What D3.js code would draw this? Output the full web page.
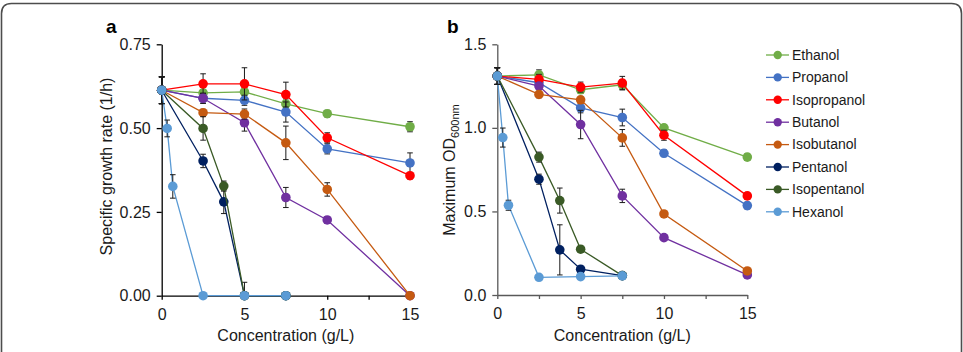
<!DOCTYPE html>
<html>
<head>
<meta charset="utf-8">
<script src="https://cdn.jsdelivr.net/npm/d3@7"></script>
<style>
  body { margin: 0; background: #fff; }
  svg { display: block; font-family: "Liberation Sans", Arial, sans-serif; }
</style>
</head>
<body>
<div id="chart"></div>
<script>
// series + colours
const seriesNames = ["Ethanol", "Propanol", "Isopropanol", "Butanol", "Isobutanol", "Pentanol", "Isopentanol", "Hexanol"];
const seriesColors = ["#70ad47", "#4472c4", "#ff0000", "#7030a0", "#c55a11", "#002060", "#3a5a26", "#5b9bd5"];

// concentrations (g/L)
const concFull = [0, 2.5, 5, 7.5, 10, 15];
const concShort = [0, 2.5, 3.75, 5, 7.5];
const concHex = [0, 0.33, 0.67, 2.5, 5, 7.5];
const seriesConc = [concFull, concFull, concFull, concFull, concFull, concShort, concShort, concHex];

// panel a: specific growth rate (1/h)
const rateValues = [
  [0.613, 0.605, 0.608, 0.572, 0.543, 0.504],
  [0.613, 0.589, 0.583, 0.548, 0.438, 0.396],
  [0.613, 0.632, 0.632, 0.600, 0.471, 0.358],
  [0.613, 0.589, 0.516, 0.293, 0.226, 0],
  [0.613, 0.546, 0.542, 0.456, 0.317, 0],
  [0.613, 0.402, 0.280, 0, 0],
  [0.613, 0.499, 0.327, 0, 0],
  [0.613, 0.499, 0.326, 0, 0, 0]
];
const rateErrors = [
  [0.04, 0.01, 0.015, 0.015, 0.01, 0.015],
  [0.04, 0.015, 0.015, 0.03, 0.015, 0.03],
  [0.04, 0.03, 0.048, 0.037, 0.015, 0.01],
  [0.04, 0.015, 0.025, 0.03, 0.01, 0],
  [0.04, 0.01, 0.015, 0.05, 0.02, 0],
  [0.04, 0.02, 0.035, 0.04, 0],
  [0.04, 0.035, 0.015, 0.01, 0],
  [0.04, 0.025, 0.035, 0, 0, 0]
];

// panel b: maximum OD600nm
const odValues = [
  [1.31, 1.317, 1.228, 1.258, 1.0, 0.825],
  [1.31, 1.27, 1.12, 1.062, 0.848, 0.535],
  [1.31, 1.29, 1.244, 1.268, 0.956, 0.593],
  [1.31, 1.25, 1.02, 0.593, 0.343, 0.12],
  [1.31, 1.20, 1.168, 0.94, 0.485, 0.144],
  [1.31, 0.693, 0.27, 0.154, 0.116],
  [1.31, 0.825, 0.565, 0.274, 0.116],
  [1.31, 0.942, 0.537, 0.106, 0.11, 0.115]
];
const odErrors = [
  [0.05, 0.03, 0.02, 0.03, 0.02, 0.02],
  [0.05, 0.03, 0.03, 0.05, 0.02, 0.02],
  [0.05, 0.03, 0.03, 0.04, 0.03, 0.02],
  [0.05, 0.02, 0.085, 0.04, 0.01, 0.01],
  [0.05, 0.02, 0.02, 0.05, 0.01, 0.01],
  [0.05, 0.03, 0.15, 0.01, 0.01],
  [0.05, 0.03, 0.075, 0.01, 0.01],
  [0.05, 0.057, 0.03, 0.01, 0.01, 0.01]
];

// ticks
const xTicks = [0, 2.5, 5, 7.5, 10, 12.5, 15];
const rateTicks = [0, 0.25, 0.5, 0.75];
const odTicks = [0, 0.5, 1.0, 1.5];

const width = 963, height = 352;

const svg = d3.select("#chart")
  .append("svg")
  .attr("width", width)
  .attr("height", height);

// rounded frame, open at the bottom
svg.append("path")
  .attr("d", "M1.5,352 L1.5,13.5 Q1.5,3.5 11.5,3.5 L951.5,3.5 Q961.5,3.5 961.5,13.5 L961.5,352")
  .attr("fill", "none")
  .attr("stroke", "#4d4d4d")
  .attr("stroke-width", 1.6);

function drawPanel(opt) {
  const x = d3.scaleLinear().domain([0, 15]).range(opt.xRange);
  const y = d3.scaleLinear().domain([0, opt.yMax]).range(opt.yRange);

  const g = svg.append("g");

  // x axis
  const xAxis = g.append("g")
    .attr("transform", "translate(0," + opt.yRange[0] + ")")
    .call(d3.axisBottom(x)
      .tickValues(xTicks)
      .tickSizeOuter(0)
      .tickSizeInner(4)
      .tickPadding(9)
      .tickFormat(d => d % 5 === 0 ? d3.format("d")(d) : ""));
  // y axis
  const yAxis = g.append("g")
    .attr("transform", "translate(" + opt.xRange[0] + ",0)")
    .call(d3.axisLeft(y)
      .tickValues(opt.yTicks)
      .tickSizeOuter(0)
      .tickSizeInner(5)
      .tickPadding(6)
      .tickFormat(d3.format(opt.yFormat)));

  [xAxis, yAxis].forEach(ax => {
    ax.select(".domain").attr("stroke", opt.axisColor).attr("stroke-width", 1.3);
    ax.selectAll(".tick line").attr("stroke", opt.axisColor).attr("stroke-width", 1.3);
    ax.selectAll("text")
      .attr("fill", "#1a1a1a")
      .style("font-size", "16px");
  });

  // axis titles
  g.append("text")
    .attr("x", (opt.xRange[0] + opt.xRange[1]) / 2)
    .attr("y", 341)
    .attr("text-anchor", "middle")
    .attr("fill", "#1a1a1a")
    .style("font-size", "16px")
    .text("Concentration (g/L)");

  opt.yTitle(g);

  // panel letter
  g.append("text")
    .attr("x", opt.letterX)
    .attr("y", 32.5)
    .attr("fill", "#000")
    .style("font-size", "19px")
    .style("font-weight", "bold")
    .text(opt.letter);

  const line = d3.line()
    .x(d => x(d.c))
    .y(d => y(d.v));

  seriesNames.forEach((name, i) => {
    const pts = seriesConc[i].map((c, j) => ({c: c, v: opt.values[i][j], e: opt.errors[i][j]}));
    const sg = g.append("g");

    sg.append("path")
      .datum(pts)
      .attr("fill", "none")
      .attr("stroke", seriesColors[i])
      .attr("stroke-width", 1.3)
      .attr("d", line);

    // error bars
    const eb = sg.selectAll(".err")
      .data(pts.filter(d => d.e > 0))
      .enter()
      .append("g");
    eb.append("line")
      .attr("x1", d => x(d.c)).attr("x2", d => x(d.c))
      .attr("y1", d => y(Math.max(0, d.v - d.e)))
      .attr("y2", d => y(d.v + d.e))
      .attr("stroke", "#1a1a1a").attr("stroke-width", 1);
    eb.append("line")
      .attr("x1", d => x(d.c) - 2.8).attr("x2", d => x(d.c) + 2.8)
      .attr("y1", d => y(d.v + d.e)).attr("y2", d => y(d.v + d.e))
      .attr("stroke", "#1a1a1a").attr("stroke-width", 1);
    eb.filter(d => d.v - d.e > 0)
      .append("line")
      .attr("x1", d => x(d.c) - 2.8).attr("x2", d => x(d.c) + 2.8)
      .attr("y1", d => y(d.v - d.e)).attr("y2", d => y(d.v - d.e))
      .attr("stroke", "#1a1a1a").attr("stroke-width", 1);

    sg.selectAll("circle")
      .data(pts)
      .enter()
      .append("circle")
      .attr("cx", d => x(d.c))
      .attr("cy", d => y(d.v))
      .attr("r", 4.8)
      .attr("fill", seriesColors[i]);
  });
}

drawPanel({
  xRange: [161.7, 410],
  yRange: [295.7, 44.3],
  yMax: 0.75,
  yTicks: rateTicks,
  yFormat: ".2f",
  axisColor: "#000",
  values: rateValues,
  errors: rateErrors,
  letter: "a",
  letterX: 106,
  yTitle: g => g.append("text")
    .attr("transform", "translate(112,166.5) rotate(-90)")
    .attr("text-anchor", "middle")
    .attr("fill", "#1a1a1a")
    .style("font-size", "16px")
    .text("Specific growth rate (1/h)")
});

drawPanel({
  xRange: [497.3, 747.3],
  yRange: [295, 44.3],
  yMax: 1.5,
  yTicks: odTicks,
  yFormat: ".1f",
  axisColor: "#595959",
  values: odValues,
  errors: odErrors,
  letter: "b",
  letterX: 447,
  yTitle: g => {
    const t = g.append("text")
      .attr("transform", "translate(455,170) rotate(-90)")
      .attr("text-anchor", "middle")
      .attr("fill", "#1a1a1a")
      .style("font-size", "16px");
    t.append("tspan").text("Maximum OD");
    t.append("tspan")
      .attr("dy", 4)
      .style("font-size", "11px")
      .text("600nm");
  }
});

// legend
const legend = svg.append("g").attr("transform", "translate(766,55)");
seriesNames.forEach((name, i) => {
  const row = legend.append("g").attr("transform", "translate(0," + i * 22.4 + ")");
  row.append("line")
    .attr("x1", 0).attr("x2", 23)
    .attr("stroke", seriesColors[i])
    .attr("stroke-width", 1.3);
  row.append("circle")
    .attr("cx", 11.7)
    .attr("r", 4.2)
    .attr("fill", seriesColors[i]);
  row.append("text")
    .attr("x", 26)
    .attr("y", 4.8)
    .attr("fill", "#1a1a1a")
    .style("font-size", "14px")
    .text(name);
});
</script>
</body>
</html>
